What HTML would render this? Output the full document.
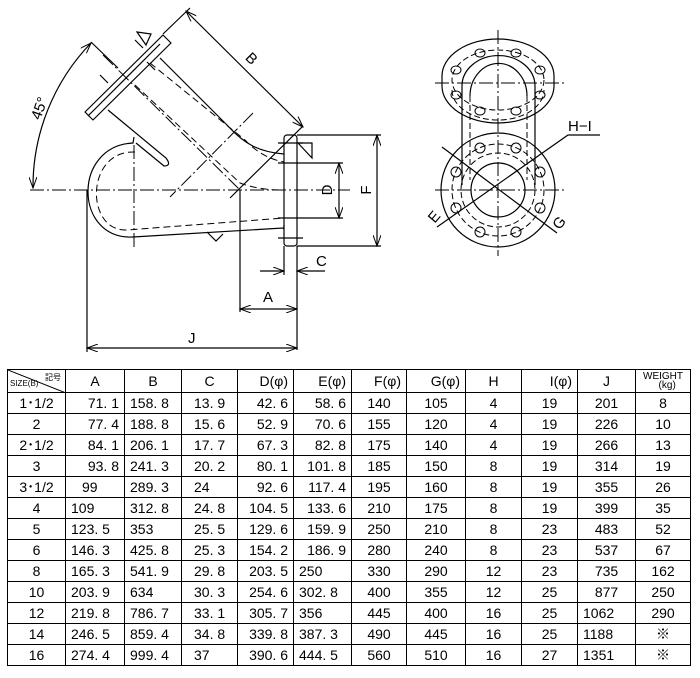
<!DOCTYPE html>
<html><head><meta charset="utf-8"><style>
body{margin:0;background:#fff;width:700px;height:678px;position:relative;overflow:hidden;font-family:"Liberation Sans","Noto Sans CJK JP",sans-serif}
svg{position:absolute;left:0;top:0}
table{position:absolute;left:7px;top:369px;border-collapse:collapse;table-layout:fixed;width:683px}
td{border:1.5px solid #000;height:20px;padding:0 5px;font-size:14px;line-height:14px;text-align:center;white-space:nowrap;overflow:hidden;color:#000}
tr.h td{height:22px}
.r{text-align:right}.l{text-align:left}
</style></head><body>
<svg width="700" height="360" viewBox="0 0 700 360" fill="none" stroke="#000" stroke-width="1.2">
<defs><marker id="a" markerWidth="12" markerHeight="8" refX="11" refY="4" orient="auto-start-reverse" markerUnits="userSpaceOnUse"><path d="M0,0 L11,4 L0,8" fill="none" stroke="#000" stroke-width="1"/></marker></defs>
<g stroke-dasharray="14,3,2,3" stroke-width="1">
<line x1="30" y1="190" x2="350" y2="190"/>
<line x1="103" y1="55" x2="240" y2="190"/>
<line x1="253" y1="113" x2="170" y2="197"/>
<line x1="134" y1="145" x2="134" y2="248"/>
<line x1="498" y1="30" x2="498" y2="256"/>
<line x1="435" y1="83" x2="565" y2="83"/>
<line x1="435" y1="190" x2="565" y2="190"/>
</g>
<!-- body -->
<path d="M88,116 L160,44"/>
<path d="M85,112 L163,35 L171,43 L93,120 Z" stroke-linejoin="round"/>
<path d="M160,58 L227,125 C245,145 260,152 284,154"/>
<path d="M108,110 L166,158 Q172,166 164,166 L136,143"/>
<path d="M134,137 L133,143 C72,146 74,240 133,237 L283,228 Q284,230 284,225"/>
<g stroke-dasharray="7,4" stroke-width="1">
<path d="M150,63 L245,140 Q262,158 284,162"/>
<path d="M135,85 L240,183 Q258,190 284,190"/>
<path d="M135,152 C85,150 85,232 127,230 L284,218"/>
</g>
<path d="M207,232 L216,241 L223,234"/>
<path d="M137,32 L151,34 L146,45 Z"/><path d="M298,143 L312,143 L312,158 Z"/>
<rect x="284" y="135" width="13" height="111" rx="3"/>
<path d="M278,143 H303 M278,238 H303 M278,163 H300 M278,218 H300"/>
<path d="M135,40 L143,48 M100,75 L108,83 M147,62 L155,70"/>
<!-- dims -->
<path d="M297,135 H381 M297,246 H381 M300,163 H343 M300,218 H343"/>
<line x1="377" y1="135" x2="377" y2="246" marker-start="url(#a)" marker-end="url(#a)"/>
<line x1="339" y1="163" x2="339" y2="218" marker-start="url(#a)" marker-end="url(#a)"/>
<path d="M284,246 V275 M297,246 V350 M240,190 V312 M87,190 V352"/>
<line x1="260" y1="271" x2="284" y2="271" marker-end="url(#a)"/>
<line x1="325" y1="271" x2="297" y2="271" marker-end="url(#a)"/>
<line x1="240" y1="309" x2="297" y2="309" marker-start="url(#a)" marker-end="url(#a)"/>
<line x1="87" y1="348" x2="297" y2="348" marker-start="url(#a)" marker-end="url(#a)"/>
<path d="M163,34 L190,8 M303,126 L230,198 M91,42 L118,68"/>
<line x1="186" y1="11" x2="303" y2="127" marker-start="url(#a)" marker-end="url(#a)"/>
<path d="M33,188 A207,207 0 0 1 91,43" marker-start="url(#a)" marker-end="url(#a)"/>
<g fill="#000" stroke="none" font-size="15" font-family="Liberation Sans,sans-serif">
<text x="263" y="302">A</text><text x="188" y="343">J</text><text x="316" y="266">C</text>
<text transform="translate(332,190) rotate(-90)" text-anchor="middle">D</text>
<text transform="translate(371,190) rotate(-90)" text-anchor="middle">F</text>
<text transform="translate(248,62) rotate(45)" text-anchor="middle">B</text>
<text transform="translate(44,110) rotate(-70)" text-anchor="middle">45°</text>
<text x="568" y="131">H−I</text>
<text transform="translate(438,220) rotate(-50)" text-anchor="middle">E</text>
<text transform="translate(563,226) rotate(-50)" text-anchor="middle">G</text>
</g>
<!-- right view -->
<path d="M442,76 A56,37 0 0 1 554,76 L554,86 A56,37 0 0 1 442,86 Z"/>
<path d="M462,86 V185 M535,86 V185"/>
<path d="M470,96 A28,32 0 0 1 527,96" /><path d="M462,86 A36,30 0 0 1 535,86"/>
<g stroke-dasharray="6,3" stroke-width="1">
<ellipse cx="498" cy="80" rx="46" ry="30"/>
<path d="M470,96 V180 M527,96 V180"/>
<ellipse cx="498" cy="190" rx="46" ry="46"/>
<ellipse cx="498" cy="190" rx="37" ry="37"/>
<path d="M452,90 A46,30 0 0 0 544,90"/>
</g>
<circle cx="498" cy="190" r="57"/><circle cx="498" cy="190" r="27"/>
<g stroke-width="1">
<circle cx="516" cy="148" r="5"/><circle cx="480" cy="148" r="5"/><circle cx="456" cy="172" r="5"/><circle cx="456" cy="208" r="5"/><circle cx="480" cy="232" r="5"/><circle cx="516" cy="232" r="5"/><circle cx="540" cy="208" r="5"/><circle cx="540" cy="172" r="5"/>
<ellipse cx="480" cy="53" rx="5" ry="4"/><ellipse cx="516" cy="53" rx="5" ry="4"/><ellipse cx="456" cy="70" rx="5" ry="4"/><ellipse cx="540" cy="70" rx="5" ry="4"/><ellipse cx="456" cy="95" rx="5" ry="4"/><ellipse cx="540" cy="95" rx="5" ry="4"/><ellipse cx="480" cy="111" rx="5" ry="4"/><ellipse cx="516" cy="111" rx="5" ry="4"/>
</g>
<path d="M442,147 L557,233 M437,227 L568,135 H600"/>
</svg>
<table>
<colgroup><col style="width:58px"><col style="width:59px"><col style="width:57px"><col style="width:56px"><col style="width:56px"><col style="width:58px"><col style="width:55px"><col style="width:59px"><col style="width:56px"><col style="width:56px"><col style="width:58px"><col style="width:55px"></colgroup>
<tr class="h"><td style="padding:0;position:relative;font-size:8px"><svg width="58" height="23" style="position:absolute;left:0;top:0"><line x1="0" y1="0" x2="58" y2="23" stroke="#000"/></svg><span style="position:absolute;right:4px;top:1px">記号</span><span style="position:absolute;left:2px;bottom:1px">SIZE(B)</span></td><td>A</td><td>B</td><td>C</td><td class="r">D(φ)</td><td class="r">E(φ)</td><td class="r">F(φ)</td><td class="r">G(φ)</td><td>H</td><td class="r">I(φ)</td><td>J</td><td style="font-size:10px;line-height:9px">WEIGHT<br>&nbsp;&nbsp;&nbsp;(kg)</td></tr>
<tr><td>1･1/2</td><td class="r">71. 1</td><td class="l">158. 8</td><td class="l" style="padding-left:12px">13. 9</td><td class="r">42. 6</td><td class="r">58. 6</td><td>140</td><td>105</td><td>4</td><td>19</td><td>201</td><td>8</td></tr>
<tr><td>2</td><td class="r">77. 4</td><td class="l">188. 8</td><td class="l" style="padding-left:12px">15. 6</td><td class="r">52. 9</td><td class="r">70. 6</td><td>155</td><td>120</td><td>4</td><td>19</td><td>226</td><td>10</td></tr>
<tr><td>2･1/2</td><td class="r">84. 1</td><td class="l">206. 1</td><td class="l" style="padding-left:12px">17. 7</td><td class="r">67. 3</td><td class="r">82. 8</td><td>175</td><td>140</td><td>4</td><td>19</td><td>266</td><td>13</td></tr>
<tr><td>3</td><td class="r">93. 8</td><td class="l">241. 3</td><td class="l" style="padding-left:12px">20. 2</td><td class="r">80. 1</td><td class="r">101. 8</td><td>185</td><td>150</td><td>8</td><td>19</td><td>314</td><td>19</td></tr>
<tr><td>3･1/2</td><td class="l" style="padding-left:16px">99</td><td class="l">289. 3</td><td class="l" style="padding-left:12px">24</td><td class="r">92. 6</td><td class="r">117. 4</td><td>195</td><td>160</td><td>8</td><td>19</td><td>355</td><td>26</td></tr>
<tr><td>4</td><td class="l">109</td><td class="l">312. 8</td><td class="l" style="padding-left:12px">24. 8</td><td class="r">104. 5</td><td class="r">133. 6</td><td>210</td><td>175</td><td>8</td><td>19</td><td>399</td><td>35</td></tr>
<tr><td>5</td><td class="l">123. 5</td><td class="l">353</td><td class="l" style="padding-left:12px">25. 5</td><td class="r">129. 6</td><td class="r">159. 9</td><td>250</td><td>210</td><td>8</td><td>23</td><td>483</td><td>52</td></tr>
<tr><td>6</td><td class="l">146. 3</td><td class="l">425. 8</td><td class="l" style="padding-left:12px">25. 3</td><td class="r">154. 2</td><td class="r">186. 9</td><td>280</td><td>240</td><td>8</td><td>23</td><td>537</td><td>67</td></tr>
<tr><td>8</td><td class="l">165. 3</td><td class="l">541. 9</td><td class="l" style="padding-left:12px">29. 8</td><td class="r">203. 5</td><td class="l">250</td><td>330</td><td>290</td><td>12</td><td>23</td><td>735</td><td>162</td></tr>
<tr><td>10</td><td class="l">203. 9</td><td class="l">634</td><td class="l" style="padding-left:12px">30. 3</td><td class="r">254. 6</td><td class="l">302. 8</td><td>400</td><td>355</td><td>12</td><td>25</td><td>877</td><td>250</td></tr>
<tr><td>12</td><td class="l">219. 8</td><td class="l">786. 7</td><td class="l" style="padding-left:12px">33. 1</td><td class="r">305. 7</td><td class="l">356</td><td>445</td><td>400</td><td>16</td><td>25</td><td class="l">1062</td><td>290</td></tr>
<tr><td>14</td><td class="l">246. 5</td><td class="l">859. 4</td><td class="l" style="padding-left:12px">34. 8</td><td class="r">339. 8</td><td class="l">387. 3</td><td>490</td><td>445</td><td>16</td><td>25</td><td class="l">1188</td><td>※</td></tr>
<tr><td>16</td><td class="l">274. 4</td><td class="l">999. 4</td><td class="l" style="padding-left:12px">37</td><td class="r">390. 6</td><td class="l">444. 5</td><td>560</td><td>510</td><td>16</td><td>27</td><td class="l">1351</td><td>※</td></tr>
</table>
</body></html>
